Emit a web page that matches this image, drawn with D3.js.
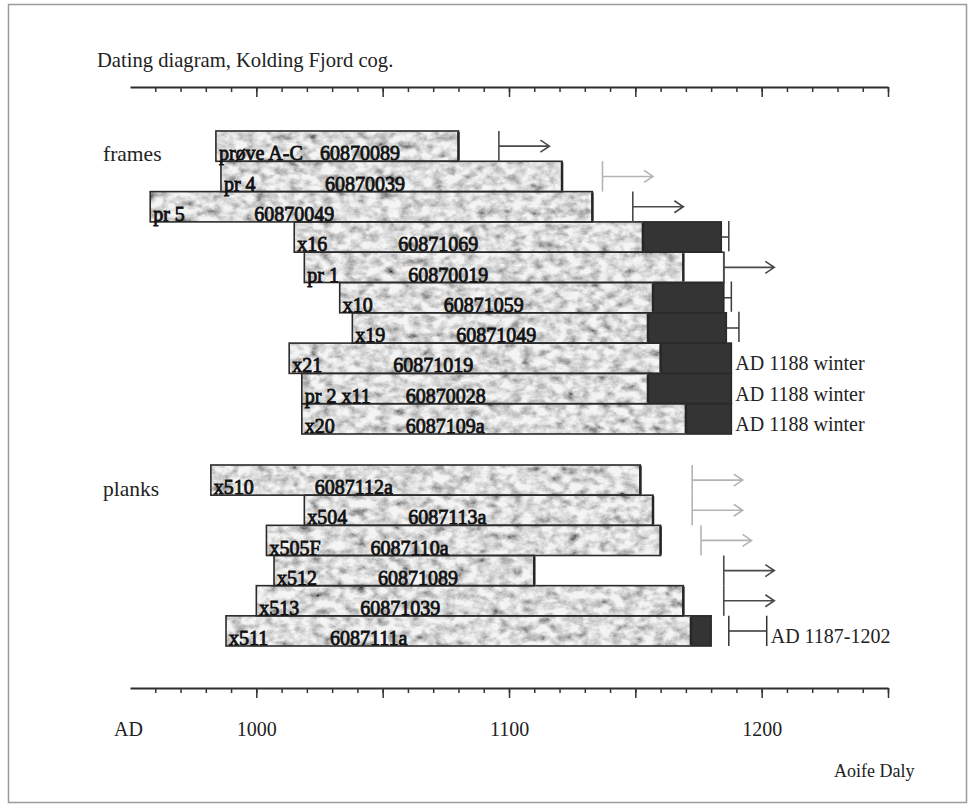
<!DOCTYPE html>
<html>
<head>
<meta charset="utf-8">
<script src="https://cdn.jsdelivr.net/npm/d3@7"></script>
<style>
  body { margin: 0; background: #fff; }
  svg text { font-family: "Liberation Serif", "Times New Roman", serif; }
</style>
</head>
<body>
<svg id="chart" width="974" height="811"></svg>
<script>
// ---- data (calendar years AD) ----
const frameNames = ["prøve A-C", "pr 4", "pr 5", "x16", "pr 1", "x10", "x19", "x21", "pr 2 x11", "x20"];
const frameIds = ["60870089", "60870039", "60870049", "60871069", "60870019", "60871059", "60871049", "60871019", "60870028", "6087109a"];
const frameStart = [984, 986, 958, 1015, 1019, 1033, 1038, 1013, 1018, 1018];
const frameHeartEnd = [1080, 1121, 1133, 1153, 1169, 1157, 1155, 1160, 1155, 1170];
const frameSapEnd = [null, null, null, 1184, null, 1185, 1186, 1188, 1188, 1188];
const frameGapEnd = [null, null, null, null, 1185, null, null, null, null, null];
const frameArrow = [1096, 1137, 1149, null, 1185, null, null, null, null, null];
const frameArrowTone = ["dark", "light", "dark", null, "dark", null, null, null, null, null];
const frameErr = [null, null, null, 1187, null, 1188, 1191, null, null, null];
const frameNotes = [null, null, null, null, null, null, null, "AD 1188 winter", "AD 1188 winter", "AD 1188 winter"];

const plankNames = ["x510", "x504", "x505F", "x512", "x513", "x511"];
const plankIds = ["6087112a", "6087113a", "6087110a", "60871089", "60871039", "6087111a"];
const plankStart = [982, 1019, 1004, 1007, 1000, 988];
const plankHeartEnd = [1152, 1157, 1160, 1110, 1169, 1172];
const plankSapEnd = [null, null, null, null, null, 1180];
const plankArrow = [1172.5, 1172.5, 1176, 1185, 1185, null];
const plankArrowTone = ["light", "light", "light", "dark", "dark", null];
const plankRange = [null, null, null, null, null, [1187, 1202]];
const plankNotes = [null, null, null, null, null, "AD 1187-1202"];

const minorTicks = d3.range(960, 1251, 10);
const majorTicks = d3.range(1000, 1251, 50);
const yearLabels = [1000, 1100, 1200];

// ---- layout ----
const svg = d3.select("#chart");
const x = d3.scaleLinear().domain([950, 1250]).range([130, 888]);
const arrowYears = 20;
const idOffset = 104;

svg.append("rect")
  .attr("x", 8.5).attr("y", 4.5).attr("width", 958).attr("height", 798)
  .attr("fill", "none").attr("stroke", "#9a9a9a").attr("stroke-width", 1.5);

// mottled grey texture for the bars
const defs = svg.append("defs");
const f = defs.append("filter").attr("id", "mottle")
  .attr("x", 0).attr("y", 0).attr("width", 1).attr("height", 1);
f.append("feTurbulence").attr("type", "fractalNoise")
  .attr("baseFrequency", "0.09 0.12").attr("numOctaves", 4).attr("seed", 4).attr("result", "n");
f.append("feColorMatrix").attr("in", "n").attr("type", "matrix")
  .attr("values", "0.9 0.9 0.9 0 -0.6  0.9 0.9 0.9 0 -0.6  0.9 0.9 0.9 0 -0.6  0 0 0 0 0.8")
  .attr("result", "g");
f.append("feComposite").attr("in", "g").attr("in2", "SourceGraphic").attr("operator", "in");

svg.append("text").attr("x", 97).attr("y", 67).attr("font-size", 20.6).attr("fill", "#222")
  .text("Dating diagram, Kolding Fjord cog.");

function tickAxis(yPos) {
  const g = svg.append("g").attr("transform", `translate(0,${yPos})`);
  g.append("g").call(d3.axisBottom(x).tickValues(minorTicks).tickSize(5).tickSizeOuter(0).tickFormat(""))
    .call(a => a.select(".domain").attr("stroke", "#2e2e2e").attr("stroke-width", 2.2));
  g.append("g").call(d3.axisBottom(x).tickValues(majorTicks).tickSize(10).tickFormat(""))
    .call(a => a.select(".domain").remove());
  g.selectAll(".tick line").attr("stroke", "#333").attr("stroke-width", 1.5);
}
tickAxis(87);
tickAxis(688);

const labels = svg.append("g").attr("transform", "translate(0,722)")
  .call(d3.axisBottom(x).tickValues(yearLabels).tickSize(0).tickPadding(0).tickFormat(d3.format("d")));
labels.select(".domain").remove();
labels.selectAll("text").attr("font-size", 20).attr("fill", "#222")
  .attr("font-family", "'Liberation Serif', 'Times New Roman', serif");

svg.append("text").attr("x", 114).attr("y", 736).attr("font-size", 20).attr("fill", "#222").text("AD");
svg.append("text").attr("x", 834).attr("y", 777).attr("font-size", 18).attr("fill", "#222").text("Aoife Daly");

const toneColor = { dark: "#4a4a4a", light: "#b4b4b4" };

function drawGroup(title, titleY, rows, top, bottom) {
  svg.append("text").attr("x", 103).attr("y", titleY).attr("font-size", 21.5).attr("fill", "#222").text(title);
  const y = d3.scaleBand().domain(d3.range(rows.length)).range([top, bottom]);
  const bh = y.bandwidth();
  const g = svg.append("g");
  const end = d => Math.max(d.heart, d.sap || 0, d.gap || 0);

  g.selectAll("rect.light").data(rows).join("rect")
    .attr("x", d => x(d.start)).attr("y", d => y(d.i))
    .attr("width", d => x(d.heart) - x(d.start)).attr("height", bh)
    .attr("fill", "#c6c6c6");
  g.selectAll("rect.tex").data(rows).join("rect")
    .attr("x", d => x(d.start)).attr("y", d => y(d.i))
    .attr("width", d => x(d.heart) - x(d.start)).attr("height", bh)
    .attr("fill", "#fff").attr("filter", "url(#mottle)");
  g.selectAll("rect.sap").data(rows.filter(d => d.sap)).join("rect")
    .attr("x", d => x(d.heart)).attr("y", d => y(d.i))
    .attr("width", d => x(d.sap) - x(d.heart)).attr("height", bh)
    .attr("fill", "#343434");
  g.selectAll("rect.gap").data(rows.filter(d => d.gap)).join("rect")
    .attr("x", d => x(d.heart)).attr("y", d => y(d.i))
    .attr("width", d => x(d.gap) - x(d.heart)).attr("height", bh)
    .attr("fill", "#fff");
  g.selectAll("rect.outline").data(rows).join("rect")
    .attr("x", d => x(d.start)).attr("y", d => y(d.i))
    .attr("width", d => x(end(d)) - x(d.start)).attr("height", bh)
    .attr("fill", "none").attr("stroke", "#2a2a2a").attr("stroke-width", 1.6);
  // heavier edge where the measured rings stop
  g.selectAll("line.edge").data(rows).join("line")
    .attr("x1", d => x(d.heart)).attr("x2", d => x(d.heart))
    .attr("y1", d => y(d.i) + 1).attr("y2", d => y(d.i) + bh - 1)
    .attr("stroke", "#262626").attr("stroke-width", 2.5);

  // names and lab numbers
  g.selectAll("text.name").data(rows).join("text")
    .attr("x", d => x(d.start) + 3).attr("y", d => y(d.i) + bh - 1)
    .attr("font-size", 20).attr("fill", "#111").attr("stroke", "#111").attr("stroke-width", 0.8)
    .text(d => d.name);
  g.selectAll("text.id").data(rows).join("text")
    .attr("x", d => x(d.start) + idOffset).attr("y", d => y(d.i) + bh - 1)
    .attr("font-size", 20).attr("fill", "#111").attr("stroke", "#111").attr("stroke-width", 0.8)
    .text(d => d.id);

  // felling-after arrows
  const arr = rows.filter(d => d.arrow != null);
  g.selectAll("line.av").data(arr).join("line")
    .attr("x1", d => x(d.arrow)).attr("x2", d => x(d.arrow))
    .attr("y1", d => y(d.i)).attr("y2", d => y(d.i) + bh)
    .attr("stroke", d => toneColor[d.tone]).attr("stroke-width", 1.6);
  g.selectAll("path.ah").data(arr).join("path")
    .attr("d", d => {
      const x1 = x(d.arrow), x2 = x(d.arrow + arrowYears), ym = y(d.i) + bh / 2;
      return `M${x1},${ym}H${x2}M${x2 - 9},${ym - 6}L${x2},${ym}L${x2 - 9},${ym + 6}`;
    })
    .attr("fill", "none").attr("stroke", d => toneColor[d.tone]).attr("stroke-width", 1.6);

  // error ticks after sapwood
  const err = rows.filter(d => d.err != null);
  g.selectAll("path.err").data(err).join("path")
    .attr("d", d => {
      const ym = y(d.i) + bh / 2, xe = x(d.err);
      return `M${x(d.sap)},${ym}H${xe}M${xe},${y(d.i) - 1}V${y(d.i) + bh - 1}`;
    })
    .attr("fill", "none").attr("stroke", "#3c3c3c").attr("stroke-width", 1.5);

  // felling ranges
  const rng = rows.filter(d => d.range);
  g.selectAll("path.rng").data(rng).join("path")
    .attr("d", d => {
      const ym = y(d.i) + bh / 2, a = x(d.range[0]), b = x(d.range[1]);
      return `M${a},${y(d.i)}V${y(d.i) + bh}M${a},${ym}H${b}M${b},${y(d.i)}V${y(d.i) + bh}`;
    })
    .attr("fill", "none").attr("stroke", "#333").attr("stroke-width", 1.5);

  // notes
  g.selectAll("text.note").data(rows.filter(d => d.note)).join("text")
    .attr("x", d => x(d.range ? d.range[1] : d.sap) + 4)
    .attr("y", d => y(d.i) + bh - 3)
    .attr("font-size", 20).attr("fill", "#222")
    .text(d => d.note);
}

const frameRows = frameNames.map((n, i) => ({
  i, name: n, id: frameIds[i], start: frameStart[i], heart: frameHeartEnd[i],
  sap: frameSapEnd[i], gap: frameGapEnd[i], arrow: frameArrow[i], tone: frameArrowTone[i],
  err: frameErr[i], note: frameNotes[i]
}));
const plankRows = plankNames.map((n, i) => ({
  i, name: n, id: plankIds[i], start: plankStart[i], heart: plankHeartEnd[i],
  sap: plankSapEnd[i], arrow: plankArrow[i], tone: plankArrowTone[i],
  range: plankRange[i], note: plankNotes[i]
}));

drawGroup("frames", 161, frameRows, 131, 434);
drawGroup("planks", 496, plankRows, 465, 646);
</script>
</body>
</html>
